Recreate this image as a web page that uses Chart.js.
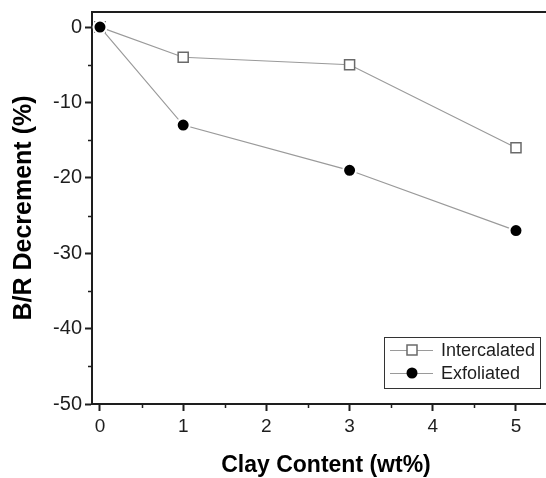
<!DOCTYPE html>
<html>
<head>
<meta charset="utf-8">
<script src="https://cdn.jsdelivr.net/npm/chart.js@4.4.0/dist/chart.umd.min.js"></script>
<style>
  html, body { margin: 0; padding: 0; background: #fff; overflow: hidden; }
  #wrap { width: 560px; height: 478px; }
</style>
</head>
<body>
<div id="wrap"><canvas id="clayChart" width="560" height="478"></canvas></div>
<script>
// values
const clayContent = [0, 1, 3, 5];
const intercalated = [0, -4, -5, -16];
const exfoliated = [0, -13, -19, -27];
const seriesNames = ['Intercalated', 'Exfoliated'];

const xTicks = [0, 1, 2, 3, 4, 5];
const xMinorTicks = [0.5, 1.5, 2.5, 3.5, 4.5];
const yTicks = [0, -10, -20, -30, -40, -50];
const yMinorTicks = [-5, -15, -25, -35, -45];

const FONT = "'Liberation Sans', Arial, Helvetica, sans-serif";
const AXIS = '#1e1e1e';
const LINE = '#9a9a9a';
const SQUARE_EDGE = '#6a6a6a';

Chart.defaults.font.family = FONT;
Chart.defaults.color = '#1e1e1e';

const toPoints = (ys) => ys.map((y, i) => ({ x: clayContent[i], y }));

// short outside ticks between the labelled ones
const minorTicks = {
  id: 'minorTicks',
  afterDraw(chart) {
    const { ctx, chartArea, scales } = chart;
    ctx.save();
    ctx.strokeStyle = AXIS;
    ctx.lineWidth = 1.5;
    ctx.beginPath();
    xMinorTicks.forEach(v => {
      const px = Math.round(scales.x.getPixelForValue(v)) + 0.5;
      ctx.moveTo(px, chartArea.bottom);
      ctx.lineTo(px, chartArea.bottom + 4);
    });
    yMinorTicks.forEach(v => {
      const py = Math.round(scales.y.getPixelForValue(v)) + 0.5;
      ctx.moveTo(chartArea.left, py);
      ctx.lineTo(chartArea.left - 4, py);
    });
    ctx.stroke();
    ctx.restore();
  }
};

// boxed legend in the lower right corner of the plot
const boxLegend = {
  id: 'boxLegend',
  afterDraw(chart) {
    const { ctx, chartArea } = chart;
    const w = 156, h = 51;
    const bx = chartArea.left + 292;
    const by = chartArea.bottom - 16 - h;
    ctx.save();
    ctx.fillStyle = '#fff';
    ctx.fillRect(bx, by, w, h);
    ctx.strokeStyle = '#333';
    ctx.lineWidth = 1;
    ctx.strokeRect(bx + 0.5, by + 0.5, w, h);

    chart.data.datasets.forEach((ds, i) => {
      const cy = by + 13 + i * 23;
      const mx = bx + 28;
      ctx.strokeStyle = LINE;
      ctx.lineWidth = 1;
      ctx.beginPath();
      ctx.moveTo(bx + 6, cy + 0.5);
      ctx.lineTo(bx + 49, cy + 0.5);
      ctx.stroke();
      if (i === 0) {
        ctx.fillStyle = '#fff';
        ctx.fillRect(mx - 5, cy - 5, 10, 10);
        ctx.strokeStyle = SQUARE_EDGE;
        ctx.lineWidth = 1.5;
        ctx.strokeRect(mx - 5, cy - 5, 10, 10);
      } else {
        ctx.fillStyle = '#000';
        ctx.beginPath();
        ctx.arc(mx, cy, 5.5, 0, Math.PI * 2);
        ctx.fill();
      }
      ctx.fillStyle = '#1e1e1e';
      ctx.font = '18px ' + FONT;
      ctx.textBaseline = 'middle';
      ctx.textAlign = 'left';
      ctx.fillText(ds.label, bx + 57, cy + 1);
    });
    ctx.restore();
  }
};

new Chart(document.getElementById('clayChart'), {
  type: 'line',
  data: {
    datasets: [
      {
        label: seriesNames[0],
        data: toPoints(intercalated),
        order: 1,
        borderColor: LINE,
        borderWidth: 1.2,
        pointStyle: 'rect',
        pointRadius: 7.1,
        pointBorderWidth: 1.5,
        pointBorderColor: ctx => ctx.dataIndex === 0 ? '#000' : SQUARE_EDGE,
        pointBackgroundColor: ctx => ctx.dataIndex === 0 ? '#000' : '#fff',
        tension: 0
      },
      {
        label: seriesNames[1],
        data: toPoints(exfoliated),
        order: 0,
        borderColor: LINE,
        borderWidth: 1.2,
        pointStyle: 'circle',
        pointRadius: 6.5,
        pointBorderWidth: 2,
        pointBorderColor: '#fff',
        pointBackgroundColor: '#000',
        tension: 0
      }
    ]
  },
  options: {
    responsive: false,
    animation: false,
    devicePixelRatio: 1,
    layout: { padding: 0, autoPadding: false },
    plugins: {
      legend: { display: false },
      tooltip: { enabled: false }
    },
    scales: {
      x: {
        type: 'linear',
        position: 'bottom',
        min: -0.096,
        max: 5.529,
        afterBuildTicks: s => { s.ticks = xTicks.map(v => ({ value: v })); },
        afterFit: s => { s.height = 74; s.paddingLeft = 0; s.paddingRight = 0; },
        grid: {
          drawOnChartArea: false,
          drawTicks: true,
          tickLength: 7,
          tickColor: AXIS,
          tickWidth: 2
        },
        border: { display: true, color: AXIS, width: 2 },
        ticks: {
          font: { size: 19 },
          color: '#1e1e1e',
          padding: 4,
          maxRotation: 0
        },
        title: {
          display: true,
          text: 'Clay Content (wt%)',
          color: '#000',
          font: { size: 23, weight: 'bold', lineHeight: 1.1 },
          padding: { top: 0, bottom: 0 }
        }
      },
      xTop: {
        type: 'linear',
        position: 'top',
        min: -0.096,
        max: 5.529,
        afterFit: s => { s.height = 12; s.paddingLeft = 0; s.paddingRight = 0; },
        grid: { display: false },
        ticks: { display: false },
        border: { display: true, color: AXIS, width: 2 }
      },
      y: {
        type: 'linear',
        position: 'left',
        min: -50,
        max: 2,
        afterBuildTicks: s => { s.ticks = yTicks.map(v => ({ value: v })); },
        afterFit: s => { s.width = 92; s.paddingTop = 0; s.paddingBottom = 0; },
        grid: {
          drawOnChartArea: false,
          drawTicks: true,
          tickLength: 7,
          tickColor: AXIS,
          tickWidth: 2
        },
        border: { display: true, color: AXIS, width: 2 },
        ticks: {
          font: { size: 20 },
          color: '#1e1e1e',
          padding: 3
        },
        title: {
          display: true,
          text: 'B/R Decrement (%)',
          color: '#000',
          font: { size: 25, weight: 'bold', lineHeight: 1.1 },
          padding: { top: 10, bottom: 0 }
        }
      }
    }
  },
  plugins: [minorTicks, boxLegend]
});
</script>
</body>
</html>
